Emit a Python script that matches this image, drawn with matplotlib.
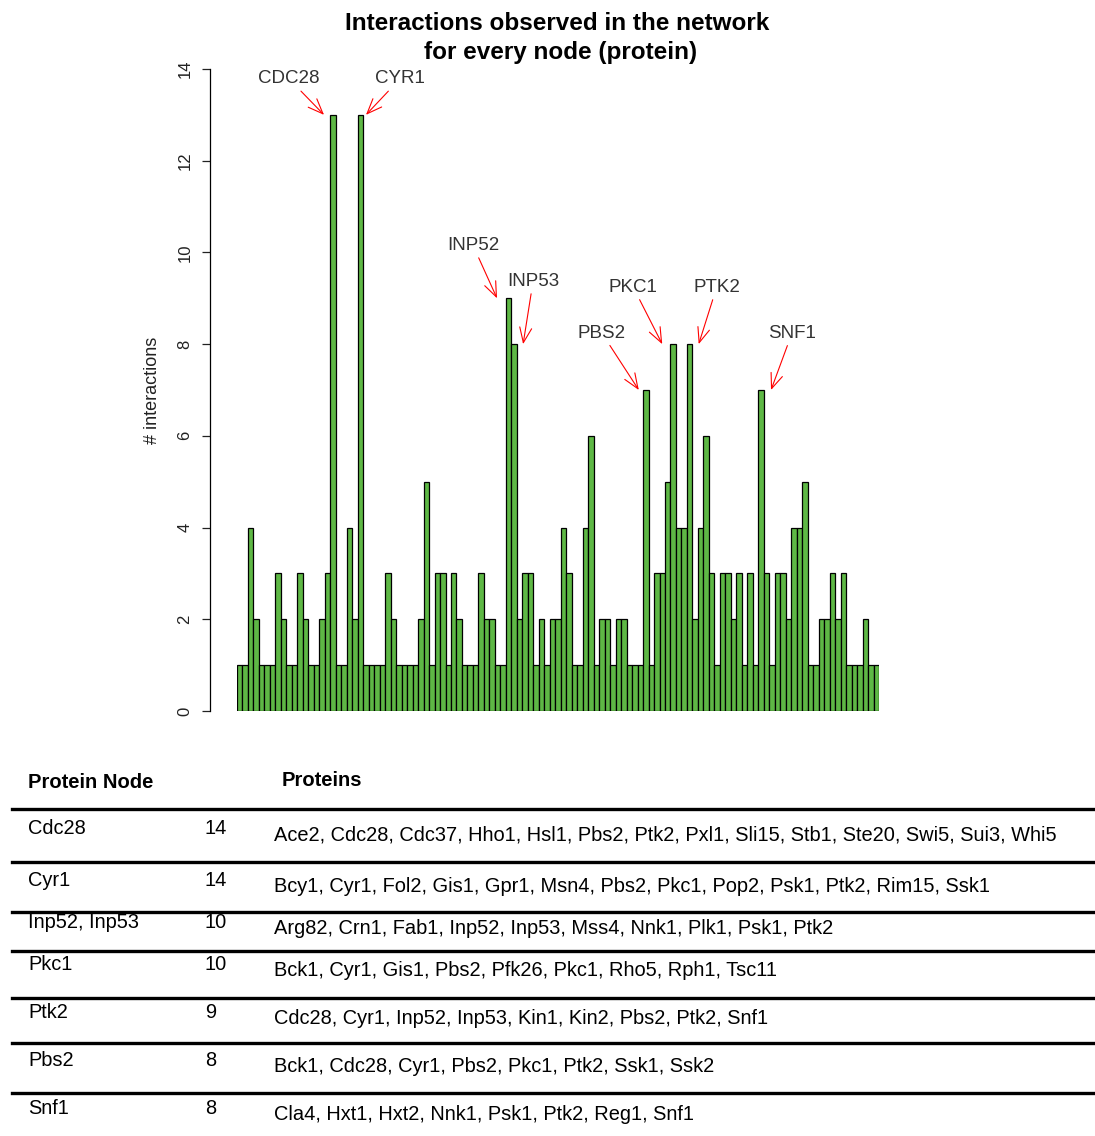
import numpy as np
import matplotlib
matplotlib.use("Agg")
import matplotlib.pyplot as plt
from matplotlib.lines import Line2D

plt.rcParams['font.family'] = ['Liberation Sans', 'DejaVu Sans']

# interactions per node (one bar per protein), read left to right
counts = [1, 1, 4, 2, 1, 1, 1, 3, 2, 1, 1, 3, 2, 1, 1, 2, 3, 13, 1, 1,
          4, 2, 13, 1, 1, 1, 1, 3, 2, 1, 1, 1, 1, 2, 5, 1, 3, 3, 1, 3,
          2, 1, 1, 1, 3, 2, 2, 1, 1, 9, 8, 2, 3, 3, 1, 2, 1, 2, 2, 4,
          3, 1, 1, 4, 6, 1, 2, 2, 1, 2, 2, 1, 1, 1, 7, 1, 3, 3, 5, 8,
          4, 4, 8, 2, 4, 6, 3, 1, 3, 3, 2, 3, 1, 3, 1, 7, 3, 1, 3, 3,
          2, 4, 4, 5, 1, 1, 2, 2, 3, 2, 3, 1, 1, 1, 2, 1, 1]

# highlighted nodes: label and bar index
hl_labels = ["CDC28", "CYR1", "INP52", "INP53", "PBS2", "PKC1", "PTK2", "SNF1"]
hl_index = [17, 22, 49, 50, 74, 79, 82, 95]
# (tip shift from bar centre, label offset from tip) in pixels
hl_layout = [(-9, -35, 36), (5.5, 34, 36), (-11.6, -24, 53), (9, 10, 63),
             (-7, -37, 57), (-11, -29, 57), (9, 18, 57), (10, 21, 57)]

# table below the chart
nodes = ["Cdc28", "Cyr1", "Inp52, Inp53", "Pkc1", "Ptk2", "Pbs2", "Snf1"]
node_counts = ["14", "14", "10", "10", "9", "8", "8"]
partners = [
    "Ace2, Cdc28, Cdc37, Hho1, Hsl1, Pbs2, Ptk2, Pxl1, Sli15, Stb1, Ste20, Swi5, Sui3, Whi5",
    "Bcy1, Cyr1, Fol2, Gis1, Gpr1, Msn4, Pbs2, Pkc1, Pop2, Psk1, Ptk2, Rim15, Ssk1",
    "Arg82, Crn1, Fab1, Inp52, Inp53, Mss4, Nnk1, Plk1, Psk1, Ptk2",
    "Bck1, Cyr1, Gis1, Pbs2, Pfk26, Pkc1, Rho5, Rph1, Tsc11",
    "Cdc28, Cyr1, Inp52, Inp53, Kin1, Kin2, Pbs2, Ptk2, Snf1",
    "Bck1, Cdc28, Cyr1, Pbs2, Pkc1, Ptk2, Ssk1, Ssk2",
    "Cla4, Hxt1, Hxt2, Nnk1, Psk1, Ptk2, Reg1, Snf1",
]

W, H = 1095, 1136
fig = plt.figure(figsize=(W / 100, H / 100), dpi=100)


def fx(px):
    return px / W


def fy(py):
    return 1 - py / H


ax_l, ax_r, ax_t, ax_b = 237, 879, 69, 711
ax = fig.add_axes([fx(ax_l), fy(ax_b), (ax_r - ax_l) / W, (ax_b - ax_t) / H])
n = len(counts)
ax.bar(np.arange(n), counts, width=1, align='edge', color='#5eb845',
       edgecolor='black', linewidth=0.9)
ax.set_xlim(0, n)
ax.set_ylim(0, 14)
for s in ['top', 'right', 'bottom']:
    ax.spines[s].set_visible(False)
ax.spines['left'].set_position(('outward', 27 * 0.72))
ax.spines['left'].set_linewidth(0.9)
ax.set_xticks([])
ax.set_yticks(range(0, 15, 2))
ax.tick_params(axis='y', length=8 * 0.72, width=0.9, pad=7, labelsize=12,
               labelrotation=90, colors='#222222')
for lab in ax.get_yticklabels():
    lab.set_va('center')
ax.set_ylabel("# interactions", fontsize=13, color='#222222')
ax.yaxis.set_label_coords((161 - ax_l) / (ax_r - ax_l), 0.5)

px_per_bar = (ax_r - ax_l) / n
for lab, i, (dx, tx, ty) in zip(hl_labels, hl_index, hl_layout):
    ax.annotate(lab, xy=(i + 0.5 + dx / px_per_bar, counts[i]),
                xytext=(tx, ty), textcoords='offset pixels',
                ha='center', va='center', fontsize=13.5, color='#333333',
                annotation_clip=False,
                arrowprops=dict(arrowstyle='->,head_length=0.8,head_width=0.32',
                                color='red', lw=0.8, shrinkA=1, shrinkB=0))

fig.text(fx(557), fy(24), "Interactions observed in the network",
         ha='center', va='center', fontsize=17.5, fontweight='bold')
fig.text(fx(561), fy(52), "for every node (protein)",
         ha='center', va='center', fontsize=17.5, fontweight='bold')

# table
fig.text(fx(28), fy(783), "Protein Node", ha='left', va='center',
         fontsize=14.5, fontweight='bold')
fig.text(fx(282), fy(781), "Proteins", ha='left', va='center',
         fontsize=14.5, fontweight='bold')

rule_y = [809, 862, 912, 951, 998, 1043, 1093]
name_y = [829, 880, 922, 965, 1013, 1060, 1108]
for y in rule_y:
    fig.add_artist(Line2D([fx(12), fx(1095)], [fy(y), fy(y)], color='black',
                          lw=2.4, transform=fig.transFigure))
for name, cnt, plist, y in zip(nodes, node_counts, partners, name_y):
    fig.text(fx(28), fy(y), name, ha='left', va='center', fontsize=14.4)
    fig.text(fx(205), fy(y), cnt, ha='left', va='center', fontsize=14.4)
    fig.text(fx(274), fy(y + 6), plist, ha='left', va='center', fontsize=14.4)

fig.savefig("out.png", dpi=100)
